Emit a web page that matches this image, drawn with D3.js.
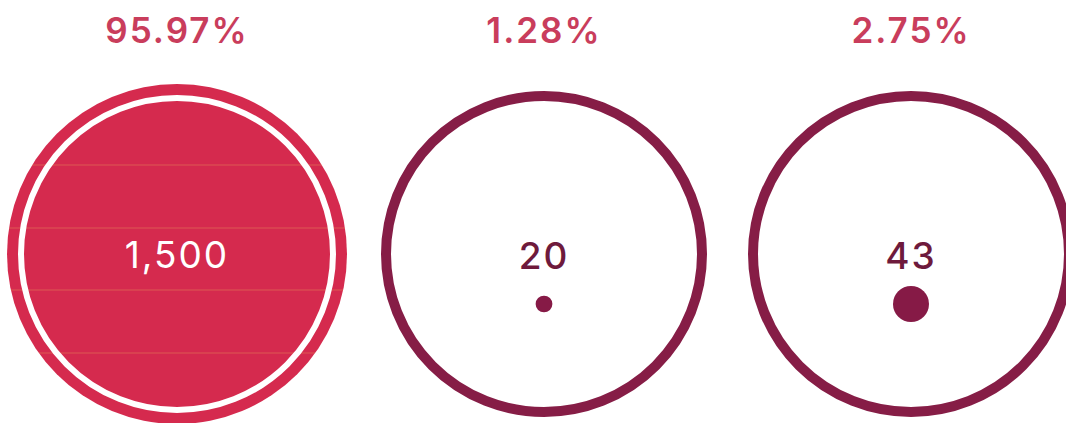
<!DOCTYPE html>
<html>
<head>
<meta charset="utf-8">
<script src="https://cdn.jsdelivr.net/npm/d3@7"></script>
<style>
  body { margin: 0; background: #fff; }
  svg { display: block; }
</style>
</head>
<body>
<svg id="chart"></svg>
<script>
// data
const categories = ["a", "b", "c"];
const counts = [1500, 20, 43];
const countLabels = ["1,500", "20", "43"];

const width = 1066, height = 423;
const cy = 254;
const bigR = 170;

const total = d3.sum(counts);
const pct = d3.format(".2%");

const data = categories.map((c, i) => ({ key: c, value: counts[i], label: countLabels[i], share: counts[i] / total }));

const svg = d3.select("#chart").attr("width", width).attr("height", height);

const x = d3.scalePoint()
    .domain(categories)
    .range([177, 911]);

// small dots sized by value (linear radius)
const dotR = d3.scaleLinear()
    .domain([0, d3.max(counts.slice(1))])
    .range([0, 18]);

const defs = svg.append("defs");
defs.append("clipPath").attr("id", "bigclip")
    .append("circle")
    .attr("cx", x(categories[0])).attr("cy", cy).attr("r", bigR);

// percentage labels
svg.selectAll(".pct")
    .data(data)
    .enter()
    .append("text")
    .attr("class", "pct")
    .attr("x", d => x(d.key))
    .attr("y", 43)
    .attr("text-anchor", "middle")
    .attr("font-family", "Inter, sans-serif")
    .attr("font-weight", 600)
    .attr("font-size", 35)
    .attr("letter-spacing", 2)
    .attr("fill", "#c93d5c")
    .text(d => pct(d.share));

// first one: big filled circle
const big = data[0];
let g0 = svg.append("g");
g0.append("circle")
    .attr("cx", x(big.key)).attr("cy", cy).attr("r", bigR)
    .attr("fill", "#d52a4e");
// faint scan lines
g0.append("g").attr("clip-path", "url(#bigclip)")
    .selectAll("line")
    .data([165, 228, 290, 353])
    .enter()
    .append("line")
    .attr("x1", x(big.key) - bigR).attr("x2", x(big.key) + bigR)
    .attr("y1", d => d).attr("y2", d => d)
    .attr("stroke", "#e8925a").attr("stroke-width", 1.2).attr("opacity", 0.45);
g0.append("circle")
    .attr("cx", x(big.key)).attr("cy", cy).attr("r", 156)
    .attr("fill", "none")
    .attr("stroke", "#fff")
    .attr("stroke-width", 6);
g0.append("text")
    .attr("x", x(big.key)).attr("y", cy + 14)
    .attr("text-anchor", "middle")
    .attr("font-family", "Inter, sans-serif")
    .attr("font-size", 37)
    .attr("letter-spacing", 2)
    .attr("fill", "#fff")
    .text(big.label);

// the others: rings with a dot
const rest = data.slice(1);
let rings = svg.selectAll(".ring")
    .data(rest)
    .enter()
    .append("g")
    .attr("class", "ring");

rings.append("circle")
    .attr("cx", d => x(d.key)).attr("cy", cy).attr("r", 158)
    .attr("fill", "none")
    .attr("stroke", "#861d46")
    .attr("stroke-width", 10);

rings.append("text")
    .attr("x", d => x(d.key)).attr("y", cy + 15)
    .attr("text-anchor", "middle")
    .attr("font-family", "Inter, sans-serif")
    .attr("font-weight", 500)
    .attr("font-size", 37)
    .attr("letter-spacing", 2)
    .attr("fill", "#6e1a3c")
    .text(d => d.label);

rings.append("circle")
    .attr("cx", d => x(d.key)).attr("cy", cy + 50)
    .attr("r", d => dotR(d.value))
    .attr("fill", "#861a46");
</script>
</body>
</html>
